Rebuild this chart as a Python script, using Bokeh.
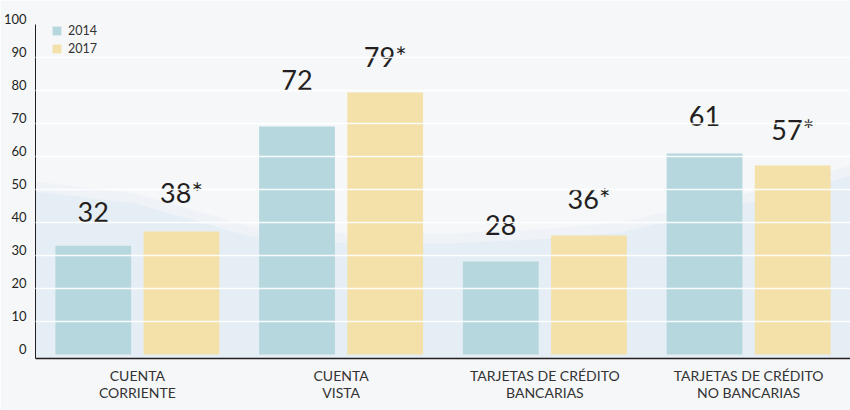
from bokeh.plotting import figure
from bokeh.models import (ColumnDataSource, FactorRange, Range1d, FixedTicker,
                          PolyAnnotation, Legend, LegendItem)
from bokeh.transform import dodge
from bokeh.core.properties import value
from bokeh.embed import file_html
from bokeh.resources import INLINE

# ---- data ----
categories = ["CUENTA\nCORRIENTE", "CUENTA\nVISTA",
              "TARJETAS DE CRÉDITO\nBANCARIAS", "TARJETAS DE CRÉDITO\nNO BANCARIAS"]
v2014 = [33.0, 69.1, 28.2, 60.9]
v2017 = [37.3, 79.4, 36.1, 57.3]
labels2014 = ["32", "72", "28", "61"]
labels2017 = ["38*", "79*", "36*", "57*"]
series_names = ["2014", "2017"]
y_ticks = list(range(0, 101, 10))

BLUE = "#b6d7de"
YELLOW = "#f4e0a9"
BG_TOP = "#f6f7f9"
BG_BOTTOM = "#e6eef5"
TEXT = "#231f20"
FONT = "Lato"

src = ColumnDataSource(dict(
    cat=categories,
    v2014=v2014,
    v2017=v2017,
    l2014=labels2014,
    l2017=labels2017,
    ly2014=[float(s.rstrip("*")) for s in labels2014],
    ly2017=[float(s.rstrip("*")) for s in labels2017],
))

p = figure(width=850, height=410, x_range=FactorRange(*categories, range_padding=0),
           y_range=Range1d(-1.2, 100), output_backend="svg", toolbar_location=None,
           min_border_left=32, min_border_right=0, min_border_top=24, min_border_bottom=52)
p.outline_line_color = None
p.background_fill_color = BG_TOP
p.border_fill_color = BG_TOP

# background wave (decoration)
wave_x = [0, 135, 250, 350, 450, 550, 620, 700, 780, 850, 850, 0]
wave_y = [187, 203, 236, 243, 243, 238, 232, 213, 195, 175, 410, 410]
wave2 = PolyAnnotation(xs=wave_x, ys=[y - 10 if y < 400 else y for y in wave_y],
                       xs_units="canvas", ys_units="canvas",
                       fill_color=BG_BOTTOM, fill_alpha=0.45, line_color=None, level="image")
wave = PolyAnnotation(xs=wave_x, ys=wave_y, xs_units="canvas", ys_units="canvas",
                      fill_color=BG_BOTTOM, fill_alpha=1.0, line_color=None, level="image")
p.add_layout(wave2)
p.add_layout(wave)

off = 0.2164
w = 0.372
r1 = p.vbar(x=dodge("cat", -off, range=p.x_range), top="v2014", width=w, source=src,
            fill_color=BLUE, line_color=None)
r2 = p.vbar(x=dodge("cat", off, range=p.x_range), top="v2017", width=w, source=src,
            fill_color=YELLOW, line_color=None)

for lab, ly, o in (("l2014", "ly2014", -off), ("l2017", "ly2017", off)):
    p.text(x=dodge("cat", o, range=p.x_range), y=ly, text=lab, source=src,
           text_font=value(FONT), text_font_size="27px", text_color=TEXT,
           text_align="center", text_baseline="alphabetic", y_offset=-37)

# axes
p.yaxis.ticker = FixedTicker(ticks=y_ticks)
p.yaxis.major_label_overrides = {t: f"{t}\n" for t in y_ticks}
p.yaxis.major_label_text_line_height = 0.75
p.yaxis.major_tick_line_color = None
p.yaxis.minor_tick_line_color = None
p.yaxis.axis_line_color = TEXT
p.yaxis.axis_line_width = 1
p.yaxis.major_label_text_font = FONT
p.yaxis.major_label_text_font_size = "13px"
p.yaxis.major_label_text_color = TEXT
p.yaxis.major_label_standoff = 3

p.xaxis.major_tick_line_color = None
p.xaxis.minor_tick_line_color = None
p.xaxis.axis_line_color = TEXT
p.xaxis.axis_line_width = 1.5
p.xaxis.major_label_text_font = FONT
p.xaxis.major_label_text_font_size = "14px"
p.xaxis.major_label_text_line_height = 1.0
p.xaxis.major_label_text_color = "#333333"
p.xaxis.major_label_standoff = 2

p.xgrid.grid_line_color = None
p.ygrid.ticker = FixedTicker(ticks=y_ticks[1:-1])
p.ygrid.grid_line_color = "white"
p.ygrid.grid_line_width = 1.5
p.ygrid.grid_line_alpha = 0.9
p.ygrid.level = "overlay"

legend = Legend(items=[LegendItem(label=series_names[0], renderers=[r1]),
                       LegendItem(label=series_names[1], renderers=[r2])],
                location=(16, 302), orientation="vertical",
                padding=4, margin=0, spacing=3,
                glyph_width=11, glyph_height=11, label_height=14, label_standoff=6,
                label_text_font=FONT, label_text_font_size="12.5px", label_text_color="#333333",
                background_fill_alpha=0, border_line_color=None)
p.add_layout(legend)

open("out.html", "w").write(file_html(p, INLINE))
